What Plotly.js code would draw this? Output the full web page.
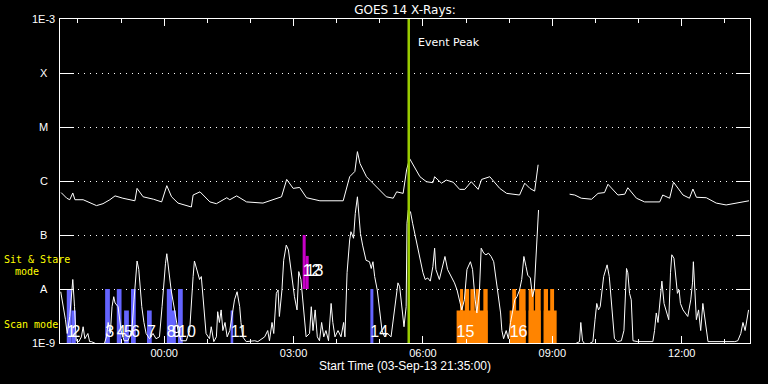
<!DOCTYPE html>
<html><head><meta charset="utf-8">
<script src="https://cdn.plot.ly/plotly-3.0.1.min.js"></script>
<style>html,body{margin:0;padding:0;background:#000;}#chart{width:768px;height:384px;}</style>
</head><body><div id="chart"></div>
<script>
// ---- time axis (hours after 2013-09-04 00:00 UT) ----
const startTime = '2013-09-03 21:35:00';
const endTime   = '2013-09-04 13:35:00';
const dayStart  = Date.UTC(2013, 8, 4, 0, 0, 0);

// GOES long channel (1-8 A), W/m^2 ; null = data gap
const longTime = [-2.39,-2.26,-2.19,-2.12,-2.07,-1.88,-1.57,-1.42,-1.26,-1.14,-0.96,-0.68,-0.63,-0.49,-0.25,-0.06,0.06,0.17,0.32,0.63,0.67,0.83,1.06,1.21,1.45,1.52,1.68,1.91,2.29,2.53,2.72,2.84,2.99,3.14,3.30,3.61,3.84,4.15,4.30,4.42,4.48,4.54,4.69,4.92,5.15,5.31,5.39,5.54,5.62,5.69,5.93,6.08,6.23,6.27,6.43,6.54,6.70,6.85,6.97,7.12,7.28,7.36,7.55,7.78,7.94,8.24,8.36,8.48,8.59,8.67,
  9.0,
  9.40,9.52,9.67,9.91,10.06,10.21,10.29,10.52,10.68,10.75,10.95,11.14,11.49,11.56,11.72,11.81,12.03,12.18,12.26,12.34,12.57,12.80,13.03,13.27,13.56];
const longFlux = [6.1e-7,4.8e-7,4.5e-7,6.0e-7,4.5e-7,4.5e-7,3.5e-7,3.8e-7,4.5e-7,5.3e-7,4.8e-7,4.3e-7,7.3e-7,5.1e-7,4.6e-7,4.1e-7,8.2e-7,5.1e-7,3.9e-7,3.3e-7,5.5e-7,6.3e-7,4.1e-7,3.8e-7,4.9e-7,4.5e-7,5.3e-7,4.1e-7,3.9e-7,4.5e-7,5.1e-7,1.07e-6,7.3e-7,7.6e-7,4.9e-7,4.3e-7,4.3e-7,4.3e-7,1.2e-6,1.5e-6,3.5e-6,2.1e-6,1.2e-6,7.8e-7,5.1e-7,4.8e-7,6.3e-7,5.9e-7,1.6e-6,2.6e-6,1.2e-6,9.7e-7,9.3e-7,1.2e-6,9.1e-7,1.04e-6,9.5e-7,7.0e-7,7.0e-7,9.7e-7,7.0e-7,1.07e-6,1.2e-6,7.3e-7,5.9e-7,5.5e-7,9.1e-7,7.3e-7,6.5e-7,2.0e-6,
  null,
  5.7e-7,5.5e-7,4.8e-7,4.6e-7,5.9e-7,6.1e-7,8.7e-7,5.5e-7,5.7e-7,7.5e-7,4.8e-7,4.1e-7,4.1e-7,5.5e-7,4.8e-7,9.5e-7,5.5e-7,4.8e-7,7.1e-7,5.0e-7,4.9e-7,3.9e-7,3.6e-7,3.9e-7,4.3e-7];

// GOES short channel (0.5-4 A), W/m^2 ; null = data gap
const shortTime = [-2.40,-2.35,-2.29,-2.25,-2.19,-2.14,-2.12,-2.08,-2.04,-1.98,
 -1.92,-1.88,-1.84,-1.77,-1.73,-1.69,-1.49,-1.40,-1.34,-1.30,
 -1.25,-1.21,-1.17,-1.14,-1.07,-1.00,-0.93,-0.84,-0.75,-0.70,
 -0.66,-0.63,-0.59,-0.56,-0.52,-0.47,-0.42,-0.34,-0.26,-0.19,
 -0.11,-0.05,-0.01,0.03,0.06,0.10,0.16,0.24,0.32,0.39,
 0.51,0.59,0.63,0.67,0.70,0.76,0.82,0.86,0.90,0.94,
 0.97,1.05,1.09,1.15,1.21,1.24,1.28,1.32,1.36,1.41,
 1.46,1.52,1.63,1.69,1.75,1.78,1.82,1.90,2.10,2.17,
 2.33,2.40,2.44,2.50,2.54,2.60,2.64,2.67,2.73,2.77,
 2.83,2.88,2.94,3.02,3.08,3.12,3.17,3.21,3.25,3.29,
 3.37,3.41,3.45,3.50,3.55,3.60,3.65,3.70,3.75,3.81,
 3.87,3.91,3.96,4.03,4.10,4.16,4.19,4.24,4.30,4.33,
 4.39,4.43,4.48,4.51,4.55,4.60,4.68,4.76,4.80,4.84,
 4.88,4.94,4.99,5.05,5.11,5.18,5.26,5.32,5.38,5.42,
 5.46,5.51,5.56,5.61,5.63,5.66,5.71,5.76,5.84,5.92,
 6.00,6.05,6.11,6.17,6.23,6.27,6.30,6.38,6.46,6.51,
 6.57,6.65,6.73,6.79,6.85,6.90,6.96,7.02,7.10,7.15,
 7.21,7.25,7.31,7.35,7.41,7.46,7.52,7.58,7.64,7.69,
 7.75,7.80,7.83,7.87,7.93,7.98,8.03,8.08,8.13,8.18,
 8.24,8.29,8.34,8.39,8.43,8.49,8.54,8.58,8.62,8.66,
 8.68,9.0,9.45,9.63,9.66,9.70,9.78,9.94,9.99,10.03,
 10.07,10.11,10.19,10.27,10.32,10.36,10.40,10.44,10.51,10.60,
 10.66,10.70,10.72,10.75,10.79,10.83,10.87,10.98,11.33,11.37,
 11.41,11.45,11.49,11.54,11.59,11.64,11.70,11.74,11.77,11.82,
 11.86,11.90,11.94,11.97,12.03,12.08,12.14,12.21,12.25,12.27,
 12.30,12.34,12.39,12.44,12.49,12.53,12.57,12.61,13.23,13.30,
 13.37,13.42,13.47,13.52,13.55];
const shortFlux = [8.9e-9,5.5e-9,2.7e-9,1.5e-9,3.1e-9,9.6e-9,1.5e-8,4.7e-9,1.1e-9,1.06e-9,
 1.3e-9,2.0e-9,1.2e-9,1.5e-9,1.06e-9,1.06e-9,9e-10,9e-10,1.3e-9,2.4e-9,
 1.5e-9,4.7e-9,7.2e-9,5.5e-9,4.7e-9,1.7e-9,1.1e-9,1.1e-9,1.7e-9,6.3e-9,
 1.7e-8,3.3e-8,2.3e-8,9.6e-9,4.7e-9,2.4e-9,1.5e-9,1.2e-9,1.5e-9,1.2e-9,
 1.3e-9,4.7e-9,1.3e-8,3.0e-8,4.5e-8,2.3e-8,9.6e-9,4.1e-9,1.7e-9,1.1e-9,
 1.1e-9,1.7e-9,6.3e-9,1.7e-8,3.3e-8,2.1e-8,1.5e-8,1.7e-8,7.2e-9,4.1e-9,
 1.5e-9,1.2e-9,2.0e-9,1.06e-9,1.3e-9,3.8e-9,2.4e-9,4.1e-9,1.7e-9,2.4e-9,
 1.3e-9,1.7e-9,6.3e-9,8.9e-9,4.7e-9,2.4e-9,1.3e-9,1.06e-9,1.1e-9,1.06e-9,
 1.3e-9,1.7e-9,1.1e-9,2.4e-9,1.5e-9,8.3e-9,9.6e-9,3.1e-9,9.6e-9,3.4e-8,
 6.5e-8,5.3e-8,2.3e-8,7.2e-9,4.1e-9,2.1e-8,1.5e-8,6.3e-9,2.4e-9,1.3e-9,
 1.5e-9,4.7e-9,1.7e-9,4.1e-9,1.3e-9,1.1e-9,2.4e-9,1.3e-9,1.7e-9,1.1e-9,
 5.4e-9,2.4e-9,1.3e-9,1.7e-9,1.3e-9,2.4e-9,1.3e-9,2.0e-8,8.1e-8,1.15e-7,
 8.7e-8,2.5e-7,5.1e-7,2.5e-7,1.07e-7,6.5e-8,3.4e-8,3.2e-8,2.4e-8,3.2e-8,
 1.7e-8,9.6e-9,4.1e-9,1.7e-9,1.3e-9,1.5e-9,1.3e-9,3.1e-9,7.2e-9,1.3e-8,
 1.1e-8,4.7e-9,2.0e-9,4.7e-9,1.65e-7,2.9e-7,2.7e-7,1.65e-7,8.1e-8,4.0e-8,
 2.0e-8,1.5e-8,1.6e-8,1.4e-8,2.6e-8,5.7e-8,2.3e-8,1.5e-8,2.6e-8,4.0e-8,
 2.3e-8,1.7e-8,1.3e-8,9.6e-9,6.3e-9,4.1e-9,6.3e-9,2.3e-8,3.2e-8,2.3e-8,
 6.3e-9,3.6e-9,9.6e-9,5.7e-8,4.6e-8,4.3e-8,4.6e-8,4.0e-8,3.2e-8,1.7e-8,
 7.2e-9,3.6e-9,1.7e-9,1.2e-9,1.7e-9,1.2e-9,2.4e-9,4.1e-9,6.3e-9,7.2e-9,
 9.6e-9,1.5e-8,4.0e-8,2.6e-8,1.8e-8,1.6e-8,7.2e-9,9.6e-9,4.0e-8,2.2e-7,
 2.9e-7,null,9e-10,1.06e-9,2.4e-9,1.1e-9,9e-10,1.06e-9,2.7e-9,5.4e-9,
 4.1e-9,4.7e-9,1.7e-8,2.8e-8,1.7e-8,6.3e-9,2.4e-9,1.2e-9,1.06e-9,1.1e-9,
 1.7e-9,9.6e-9,2.4e-8,2.0e-8,8.3e-9,6.3e-9,1.1e-9,1.06e-9,1.06e-9,1.7e-9,
 3.6e-9,2.4e-9,5.4e-9,1.4e-8,5.4e-9,4.1e-9,2.7e-9,2.0e-8,4.3e-8,3.7e-8,
 1.5e-8,8.3e-9,9.6e-9,5.4e-9,4.1e-9,3.6e-9,3.1e-9,6.3e-9,1.3e-8,3.2e-8,
 9.6e-9,2.7e-9,4.1e-9,1.7e-9,5.4e-9,3.1e-9,1.7e-9,1.06e-9,1.06e-9,1.1e-9,
 1.5e-9,2.4e-9,1.7e-9,3.1e-9,4.1e-9];

// ---- observations ----
const obsNum   = ['1','2','3','4','5','6','7','8','9','10','11','12','13','14','15','16'];
const obsMode  = ['scan','scan','scan','scan','scan','scan','scan','scan','scan','scan','scan','sit','sit','scan','other','other'];
const obsStart = [-2.26,-2.15,-1.37,-1.10,-0.93,-0.77,-0.40,0.06,0.18,0.32,1.54,3.21,3.28,4.78,6.78,8.01];
const obsEnd   = [-2.15,-2.05,-1.26,-0.99,-0.82,-0.66,-0.29,0.18,0.27,0.43,1.60,3.28,3.35,4.85,7.50,8.38];
const obsTop   = [1e-8,4e-9,1e-8,1e-8,4e-9,1e-8,4e-9,1e-8,4e-9,1e-8,4e-9,1e-7,4.1e-8,1e-8,4e-9,4e-9];
// further (unlabelled) observation blocks
const extraStart = [6.86,6.97,7.10,7.22,7.40,8.07,8.23,8.45,8.45,8.60,8.80,8.80,8.95];
const extraEnd   = [6.93,7.07,7.20,7.32,7.50,8.16,8.38,8.73,8.57,8.73,9.10,8.90,9.04];
const extraTop   = [1e-8,1e-8,1e-8,1e-8,1e-8,1e-8,1e-8,4e-9,1e-8,1e-8,4e-9,1e-8,1e-8];

const eventPeak = 5.67;

const yTickVals = [1e-3,1e-4,1e-5,1e-6,1e-7,1e-8,1e-9];
const yTickText = ['1E-3','X','M','C','B','A','1E-9'];

// ---- styles ----
const modeColor = {scan:'#6464ff', sit:'#c800c8', other:'#ff8400'};
const modeBase  = {scan:1e-9, sit:1e-8, other:1e-9};
const modeLabelLevel = {scan:1.55e-9, sit:2.1e-8, other:1.55e-9};
const HR = 3600000;
const toT = h => (h === null ? null : dayStart + h * HR);

function barTrace(starts, ends, tops, bases, color){
  return {type:'bar', x:starts.map((s,i)=>toT((s+ends[i])/2)), width:starts.map((s,i)=>(ends[i]-s)*HR),
    base:bases, y:tops.map((t,i)=>t-bases[i]), marker:{color:color, line:{width:0}}, hoverinfo:'skip'};
}
const traces = [];
['scan','sit','other'].forEach(m=>{
  const idx = obsMode.map((v,i)=>v===m?i:-1).filter(i=>i>=0);
  traces.push(barTrace(idx.map(i=>obsStart[i]), idx.map(i=>obsEnd[i]), idx.map(i=>obsTop[i]), idx.map(()=>modeBase[m]), modeColor[m]));
});
traces.push(barTrace(extraStart, extraEnd, extraTop, extraStart.map(()=>modeBase.other), modeColor.other));

traces.push({type:'scatter', mode:'lines', x:shortTime.map(toT), y:shortFlux, line:{color:'#fff', width:1}, connectgaps:false});
traces.push({type:'scatter', mode:'lines', x:longTime.map(toT), y:longFlux, line:{color:'#fff', width:1}, connectgaps:false});
traces.push({type:'scatter', mode:'lines', x:[toT(eventPeak), toT(eventPeak)], y:[yTickVals[6], yTickVals[0]], line:{color:'#99cc00', width:2.5}});
traces.push({type:'scatter', mode:'text', x:obsStart.map(toT), y:obsMode.map(m=>modeLabelLevel[m]), text:obsNum,
  textposition:'middle right', textfont:{family:'Liberation Sans', size:16, color:'#fff'}, cliponaxis:false});

const annotations = yTickText.map((t,i)=>({text:t, xref:'paper', x:-0.0232, xanchor:'center', yref:'y', y:Math.log10(yTickVals[i]), yanchor:'middle',
  showarrow:false, font:{family:'Liberation Sans', size:11, color:'#fff'}}));
const yel = {family:'DejaVu Sans Mono', size:10, color:'#ffff00'};
annotations.push({text:'Sit & Stare', xref:'paper', x:-0.0845, xanchor:'left', yref:'paper', y:0.259, yanchor:'middle', showarrow:false, font:yel});
annotations.push({text:'mode', xref:'paper', x:-0.0685, xanchor:'left', yref:'paper', y:0.222, yanchor:'middle', showarrow:false, font:yel});
annotations.push({text:'Scan mode', xref:'paper', x:-0.0845, xanchor:'left', yref:'paper', y:0.0586, yanchor:'middle', showarrow:false, font:yel});
annotations.push({text:'Event Peak', xref:'x', x:toT(eventPeak), xanchor:'left', xshift:7, yref:'paper', y:0.926, yanchor:'middle', showarrow:false,
  font:{family:'DejaVu Sans', size:11, color:'#fff'}});

const layout = {
  width:768, height:384, margin:{l:60, r:18, t:19, b:41},
  paper_bgcolor:'#000', plot_bgcolor:'#000', showlegend:false, barmode:'overlay',
  title:{text:'GOES 14 X-Rays:', font:{family:'DejaVu Sans', size:12, color:'#fff'}, xref:'paper', x:0.5, xanchor:'center', yref:'container', y:0.975, yanchor:'middle'},
  xaxis:{type:'date', range:[startTime, endTime], tickformat:'%H:%M', tick0:'2013-09-04 00:00:00', dtick:3*HR,
    ticks:'inside', ticklen:7, tickwidth:1, tickcolor:'#fff', showline:true, linecolor:'#fff', linewidth:1, mirror:'ticks',
    showgrid:false, zeroline:false, tickfont:{family:'Liberation Sans', size:11, color:'#fff'},
    minor:{dtick:HR, ticks:'inside', ticklen:4, tickwidth:1, tickcolor:'#fff', showgrid:false},
    title:{text:'Start Time (03-Sep-13 21:35:00)', font:{family:'Liberation Sans', size:12, color:'#fff'}, standoff:2}},
  yaxis:{type:'log', range:[-9,-3], tickvals:yTickVals, ticktext:yTickText, showticklabels:false,
    ticks:'inside', ticklen:14, tickwidth:1, tickcolor:'#fff', showline:true, linecolor:'#fff', linewidth:1, mirror:'ticks',
    showgrid:true, gridcolor:'#fff', gridwidth:1, griddash:'1px,5px', zeroline:false},
  annotations:annotations
};
Plotly.newPlot('chart', traces, layout, {staticPlot:true, displayModeBar:false});
</script>
</body></html>
